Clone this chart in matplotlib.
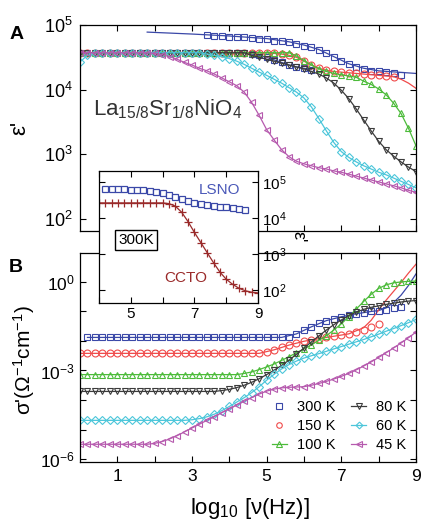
import numpy as np
import matplotlib.pyplot as plt
from matplotlib.ticker import NullLocator, NullFormatter

plt.rcParams['font.family'] = ['Liberation Sans', 'DejaVu Sans']
plt.rcParams['mathtext.fontset'] = 'custom'
plt.rcParams['mathtext.rm'] = 'Liberation Sans'
plt.rcParams['mathtext.it'] = 'Liberation Sans:italic'
plt.rcParams['mathtext.bf'] = 'Liberation Sans:bold'

# log10 of frequency (Hz) at which points are taken
freq_log = [0.0, 0.2, 0.4, 0.6, 0.8, 1.0, 1.2, 1.4, 1.6, 1.8, 2.0, 2.2, 2.4, 2.6, 2.8,
            3.0, 3.2, 3.4, 3.6, 3.8, 4.0, 4.2, 4.4, 4.6, 4.8, 5.0, 5.2, 5.4, 5.6, 5.8,
            6.0, 6.2, 6.4, 6.6, 6.8, 7.0, 7.2, 7.4, 7.6, 7.8, 8.0, 8.2, 8.4, 8.6, 8.8, 9.0]

temps = ['300 K', '150 K', '100 K', '80 K', '60 K', '45 K']
colors = ['#3a48a8', '#f04a4a', '#4cbb3a', '#3c3c3c', '#4cc6da', '#b65aae']
markers = ['s', 'o', '^', 'v', 'D', '<']

# ---- panel A: log10(eps') ----
# 300 K, high branch (starts at 3.4)
eps_300_hi = [4.84, 4.83, 4.83, 4.82, 4.82, 4.81, 4.80, 4.79, 4.78, 4.76, 4.75, 4.73, 4.70, 4.68,
              4.66, 4.62, 4.56, 4.50, 4.45, 4.40, 4.35, 4.32, 4.29, 4.28, 4.27, 4.25, 4.23]
eps_300_fit_x = [1.8, 3.0, 4.0, 5.0, 5.6, 6.0, 6.4, 6.8, 7.2, 7.6, 8.0, 8.5, 9.0]
eps_300_fit = [4.89, 4.86, 4.83, 4.79, 4.74, 4.69, 4.62, 4.51, 4.40, 4.33, 4.29, 4.27, 4.25]
# 300 K, low branch (starts at 1.4)
eps_300_lo = [4.57, 4.57, 4.57, 4.57, 4.57, 4.57, 4.57, 4.57, 4.57, 4.57, 4.57, 4.57, 4.57, 4.57,
              4.57, 4.57, 4.55, 4.53, 4.50, 4.46, 4.42, 4.38, 4.35, 4.33, 4.31]
# start at 0.0
eps_150 = [4.57, 4.57, 4.57, 4.57, 4.57, 4.57, 4.57, 4.57, 4.57, 4.57, 4.57, 4.57, 4.57, 4.57,
           4.57, 4.57, 4.57, 4.57, 4.57, 4.57, 4.57, 4.57, 4.57, 4.57, 4.57, 4.57, 4.56, 4.55,
           4.53, 4.50, 4.44, 4.38, 4.33, 4.30, 4.28, 4.27, 4.26, 4.25, 4.24, 4.23, 4.22, 4.21, 4.20]
eps_150_tail_x = [8.4, 8.6, 8.8, 9.0]
eps_150_tail = [4.20, 4.16, 4.10, 4.02]
eps_100 = [4.57, 4.57, 4.57, 4.57, 4.57, 4.57, 4.57, 4.57, 4.57, 4.57, 4.57, 4.57, 4.57, 4.57,
           4.57, 4.57, 4.57, 4.57, 4.57, 4.57, 4.57, 4.57, 4.57, 4.57, 4.57, 4.57, 4.57, 4.57,
           4.57, 4.52, 4.45, 4.38, 4.32, 4.28, 4.25, 4.23, 4.21, 4.19, 4.13, 4.08, 4.01, 3.92,
           3.79, 3.63, 3.40, 3.13]
eps_80 = [4.57, 4.57, 4.57, 4.57, 4.57, 4.57, 4.57, 4.57, 4.57, 4.57, 4.57, 4.57, 4.57, 4.57,
          4.57, 4.57, 4.57, 4.57, 4.57, 4.57, 4.57, 4.57, 4.57, 4.53, 4.50, 4.47, 4.44, 4.41,
          4.38, 4.35, 4.32, 4.28, 4.24, 4.18, 4.10, 3.99, 3.86, 3.70, 3.53, 3.36, 3.20, 3.07,
          2.97, 2.88, 2.80, 2.73]
eps_60 = [4.43, 4.53, 4.57, 4.57, 4.57, 4.57, 4.57, 4.57, 4.57, 4.57, 4.57, 4.57, 4.57, 4.57,
          4.57, 4.57, 4.57, 4.55, 4.53, 4.51, 4.48, 4.44, 4.39, 4.33, 4.27, 4.22, 4.16, 4.10,
          4.03, 3.96, 3.87, 3.73, 3.55, 3.36, 3.18, 3.04, 2.95, 2.88, 2.82, 2.77, 2.72, 2.68,
          2.63, 2.58, 2.53, 2.48]
eps_45 = [4.57, 4.57, 4.57, 4.57, 4.57, 4.57, 4.57, 4.57, 4.57, 4.57, 4.56, 4.54, 4.51, 4.47,
          4.42, 4.38, 4.33, 4.29, 4.24, 4.18, 4.12, 4.06, 3.96, 3.80, 3.60, 3.38, 3.22, 3.07,
          2.96, 2.89, 2.85, 2.82, 2.79, 2.77, 2.74, 2.72, 2.69, 2.66, 2.63, 2.60, 2.57, 2.54,
          2.51, 2.48, 2.44, 2.41]

# ---- panel B: log10(sigma') ----
# 300 K starts at 0.2
sig_300 = [-1.88, -1.88, -1.88, -1.88, -1.88, -1.88, -1.88, -1.88, -1.88, -1.88, -1.88, -1.88,
           -1.88, -1.88, -1.88, -1.88, -1.88, -1.88, -1.88, -1.88, -1.88, -1.88, -1.88, -1.88,
           -1.88, -1.88, -1.88, -1.85, -1.76, -1.64, -1.52, -1.40, -1.31, -1.24, -1.18, -1.13,
           -1.08, -1.04, -1.00, -0.98, -0.95, -0.90, -0.84]
sig_300_fit_x = [0.2, 5.4, 5.8, 6.2, 6.6, 7.0, 7.4, 7.8, 8.0, 8.2, 8.4, 8.6, 8.8, 9.0]
sig_300_fit = [-1.88, -1.88, -1.76, -1.52, -1.31, -1.18, -1.08, -1.00, -0.97, -0.88, -0.70,
               -0.45, -0.12, 0.27]
sig_150 = [-2.42, -2.42, -2.42, -2.42, -2.42, -2.42, -2.42, -2.42, -2.42, -2.42, -2.42, -2.42,
           -2.42, -2.42, -2.42, -2.42, -2.42, -2.42, -2.42, -2.42, -2.42, -2.42, -2.42, -2.42,
           -2.42, -2.37, -2.30, -2.22, -2.14, -2.07, -2.01, -1.96, -1.92, -1.88, -1.84, -1.80,
           -1.76, -1.70, -1.62, -1.52, -1.42]
sig_150_fit_x = [0.0, 4.8, 5.2, 5.6, 6.0, 6.4, 6.8, 7.2, 7.6, 7.8, 8.0, 8.2, 8.4, 8.6, 8.8, 9.0]
sig_150_fit = [-2.42, -2.42, -2.30, -2.14, -2.01, -1.92, -1.84, -1.76, -1.55, -1.30, -0.95,
               -0.62, -0.32, -0.02, 0.30, 0.60]
sig_100 = [-3.14, -3.14, -3.14, -3.14, -3.14, -3.14, -3.14, -3.14, -3.14, -3.14, -3.14, -3.14,
           -3.14, -3.14, -3.14, -3.14, -3.14, -3.14, -3.14, -3.14, -3.14, -3.14, -3.10, -3.05,
           -2.97, -2.88, -2.78, -2.66, -2.53, -2.40, -2.27, -2.13, -1.98, -1.82, -1.63, -1.42,
           -1.18, -0.92, -0.66, -0.42, -0.22, -0.10, -0.03, 0.00, 0.02, 0.03]
sig_80 = [-3.71, -3.71, -3.71, -3.71, -3.71, -3.71, -3.71, -3.71, -3.71, -3.71, -3.71, -3.71,
          -3.71, -3.71, -3.71, -3.71, -3.71, -3.71, -3.71, -3.68, -3.64, -3.58, -3.50, -3.40,
          -3.28, -3.14, -2.99, -2.83, -2.65, -2.45, -2.24, -2.03, -1.83, -1.63, -1.45, -1.29,
          -1.14, -1.02, -0.93, -0.86, -0.81, -0.76, -0.72, -0.68, -0.65, -0.63]
sig_60 = [-4.69, -4.69, -4.69, -4.69, -4.69, -4.69, -4.69, -4.69, -4.69, -4.69, -4.69, -4.69,
          -4.69, -4.69, -4.69, -4.67, -4.63, -4.57, -4.48, -4.36, -4.22, -4.07, -3.92, -3.75,
          -3.55, -3.33, -3.13, -2.95, -2.80, -2.68, -2.58, -2.50, -2.43, -2.35, -2.27, -2.19,
          -2.11, -2.03, -1.95, -1.86, -1.77, -1.67, -1.58, -1.48, -1.38, -1.27]
sig_45 = [-5.50, -5.50, -5.50, -5.50, -5.50, -5.50, -5.50, -5.50, -5.50, -5.50, -5.47, -5.41,
          -5.32, -5.21, -5.08, -4.95, -4.82, -4.69, -4.56, -4.43, -4.30, -4.17, -4.04, -3.92,
          -3.80, -3.70, -3.63, -3.59, -3.57, -3.56, -3.55, -3.50, -3.44, -3.37, -3.29, -3.20,
          -3.10, -2.98, -2.85, -2.71, -2.56, -2.40, -2.24, -2.07, -1.89, -1.70]

# ---- inset, 300 K: log10(eps') ----
inset_freq = [4.0, 4.2, 4.4, 4.6, 4.8, 5.0, 5.2, 5.4, 5.6, 5.8, 6.0, 6.2, 6.4, 6.6, 6.8,
              7.0, 7.2, 7.4, 7.6, 7.8, 8.0, 8.2, 8.4, 8.6, 8.8, 9.0]
lsno = [4.81, 4.81, 4.80, 4.80, 4.79, 4.78, 4.77, 4.75, 4.73, 4.69, 4.64, 4.58, 4.52, 4.47,
        4.42, 4.38, 4.35, 4.33, 4.31, 4.30, 4.28, 4.26, 4.23]  # starts at 4.2
ccto = [4.42, 4.42, 4.42, 4.42, 4.42, 4.42, 4.42, 4.42, 4.42, 4.42, 4.42, 4.40, 4.33, 4.16,
        3.90, 3.60, 3.32, 3.04, 2.76, 2.50, 2.30, 2.16, 2.05, 1.98, 1.94, 1.92]


def xs(grid, start, vals):
    i0 = grid.index(start)
    return grid[i0:i0 + len(vals)]


def mstyle(i):
    ms = 4.3 if markers[i] == 'D' else 5
    return dict(marker=markers[i], color=colors[i], mfc='none', mec=colors[i], ms=ms, mew=0.8)


fig = plt.figure(figsize=(4.21, 5.22), dpi=100)
axA = fig.add_axes([0.190, 0.5575, 0.798, 0.3946])
axB = fig.add_axes([0.190, 0.115, 0.798, 0.4003])
ax_in = fig.add_axes([0.235, 0.4195, 0.378, 0.2525])
ax_in.set_zorder(5)

lw = 0.9
# panel A
eps_series = [(0.0, eps_150), (0.0, eps_100), (0.0, eps_80), (0.0, eps_60), (0.0, eps_45)]
axA.plot(eps_300_fit_x, 10 ** np.array(eps_300_fit), color=colors[0], lw=lw)
axA.plot(xs(freq_log, 3.4, eps_300_hi), 10 ** np.array(eps_300_hi), ls='none', **mstyle(0))
axA.plot(xs(freq_log, 1.4, eps_300_lo), 10 ** np.array(eps_300_lo), lw=lw, **mstyle(0))
for i, (st, vals) in enumerate(eps_series, start=1):
    axA.plot(xs(freq_log, st, vals), 10 ** np.array(vals), lw=lw, **mstyle(i))
axA.plot(eps_150_tail_x, 10 ** np.array(eps_150_tail), color=colors[1], lw=lw)

# panel B
sig_series = [(0.2, sig_300), (0.0, sig_150), (0.0, sig_100), (0.0, sig_80), (0.0, sig_60),
              (0.0, sig_45)]
axB.plot(sig_300_fit_x, 10 ** np.array(sig_300_fit), color=colors[0], lw=lw)
axB.plot(sig_150_fit_x, 10 ** np.array(sig_150_fit), color=colors[1], lw=lw)
for i, (st, vals) in enumerate(sig_series):
    ls = 'none' if i < 2 else '-'
    axB.plot(xs(freq_log, st, vals), 10 ** np.array(vals), ls=ls, lw=lw, label=temps[i],
             **mstyle(i))

for ax in (axA, axB):
    ax.set_yscale('log')
    ax.set_xlim(0, 9)
    ax.set_xticks([1, 3, 5, 7, 9])
    ax.set_xticks([2, 4, 6, 8], minor=True)
    ax.tick_params(which='both', direction='in', top=True, right=True, length=4.5, width=0.8,
                   labelsize=13, pad=5)
    for s in ax.spines.values():
        s.set_linewidth(0.9)

axA.set_ylim(10 ** 1.81, 1e5)
axA.set_yticks([1e2, 1e3, 1e4, 1e5])
axA.yaxis.set_minor_locator(NullLocator())
axA.tick_params(labelbottom=False)

axB.set_ylim(10 ** -6.1, 10 ** 0.98)
axB.set_yticks([1e-6, 1e-3, 1e0])
axB.set_yticks([1e-5, 1e-4, 1e-2, 1e-1], minor=True)
axB.yaxis.set_minor_formatter(NullFormatter())
axB.tick_params(axis='x', labelsize=12.5)
axB.tick_params(axis='y', labelsize=12.5, pad=4)

axB.legend(loc='lower right', bbox_to_anchor=(1.0, 0.0), ncol=2, frameon=False, fontsize=10.5,
           handlelength=1.0, handletextpad=0.7, columnspacing=1.1, labelspacing=0.35,
           markerscale=0.8, borderaxespad=0.25)

axA.text(0.04, 0.563, 'La$_{15/8}$Sr$_{1/8}$NiO$_4$', transform=axA.transAxes, fontsize=16,
         va='baseline', ha='left', color='#333333')

# inset
ax_in.plot(xs(inset_freq, 4.2, lsno), 10 ** np.array(lsno), ls='none', marker='s',
           mfc='white', mec='#3a48a8', ms=5, mew=0.9)
ax_in.plot(inset_freq, 10 ** np.array(ccto), color='#9a2a2a', lw=0.9, marker='+', ms=6,
           mew=0.9)
ax_in.set_yscale('log')
ax_in.set_xlim(4.0, 9)
ax_in.set_ylim(10 ** 1.64, 10 ** 5.3)
ax_in.set_xticks([5, 7, 9])
ax_in.set_xticks([4, 6, 8], minor=True)
ax_in.set_yticks([1e2, 1e3, 1e4, 1e5])
ax_in.yaxis.set_minor_locator(NullLocator())
ax_in.tick_params(which='both', direction='in', top=True, right=True, left=True,
                  labelleft=False, labelright=True, length=4, width=0.8, labelsize=11, pad=3)
for s in ax_in.spines.values():
    s.set_linewidth(0.9)
ax_in.yaxis.set_label_position('right')
ax_in.set_ylabel("ε'", rotation=270, fontsize=13, labelpad=14)
ax_in.text(0.755, 0.856, 'LSNO', transform=ax_in.transAxes, color='#4a58b8', fontsize=11,
           ha='center', va='center')
ax_in.text(0.547, 0.19, 'CCTO', transform=ax_in.transAxes, color='#9a2a2a', fontsize=11,
           ha='center', va='center')
ax_in.text(0.233, 0.477, '300K', transform=ax_in.transAxes, fontsize=11, ha='center',
           va='center', bbox=dict(boxstyle='square,pad=0.2', fc='white', ec='black', lw=1))

fig.text(0.040, 0.933, 'A', fontsize=14, fontweight='bold', ha='center', va='center')
fig.text(0.038, 0.487, 'B', fontsize=14, fontweight='bold', ha='center', va='center')
fig.text(0.048, 0.755, "ε'", fontsize=16, rotation=90, ha='center', va='center')
fig.text(0.056, 0.310, "σ'(Ω$^{-1}$cm$^{-1}$)", fontsize=15, rotation=90, ha='center',
         va='center')
fig.text(0.594, 0.025, 'log$_{10}$ [ν(Hz)]', fontsize=16, ha='center', va='center')

fig.savefig('out.png', dpi=100)
